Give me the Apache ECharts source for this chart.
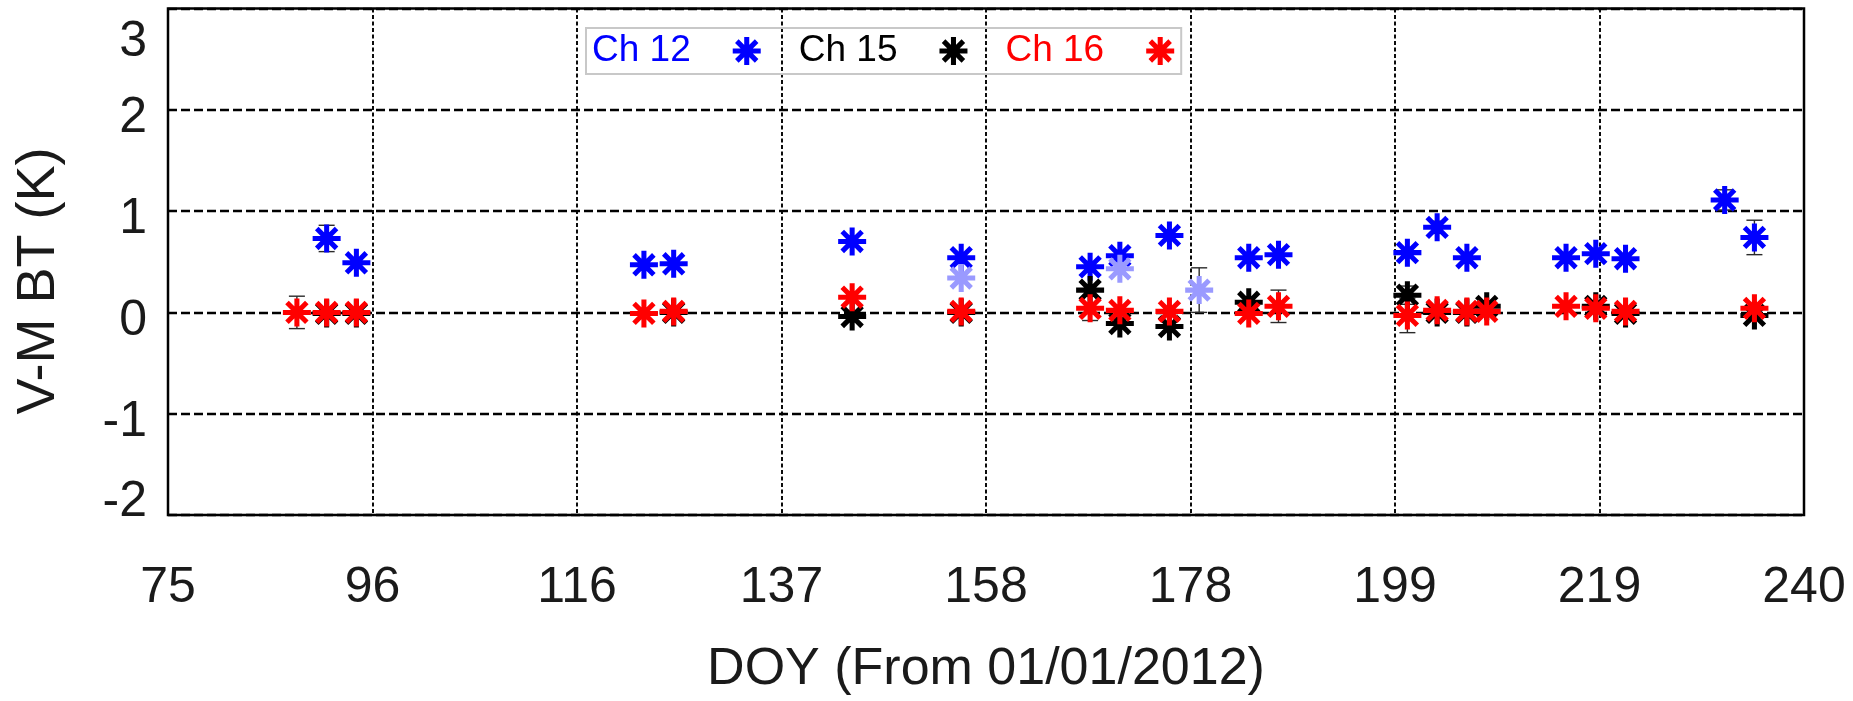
<!DOCTYPE html>
<html>
<head>
<meta charset="utf-8">
<title>V-M BT</title>
<script src="https://cdn.jsdelivr.net/npm/echarts@6/dist/echarts.min.js"></script>
<style>
  html, body { margin: 0; padding: 0; background: #ffffff; }
  #chart { width: 1853px; height: 701px; }
</style>
</head>
<body>
<div id="chart"></div>
<script>
// Day-of-year positions, V-M brightness temperature differences (K) and error half-widths
const ch12Days   = [91, 94, 123, 126, 144, 155, 168, 171, 176, 184, 187, 200, 203, 206, 216, 219, 222, 232, 235];
const ch12Values = [0.73, 0.49, 0.47, 0.48, 0.70, 0.54, 0.45, 0.56, 0.76, 0.54, 0.57, 0.59, 0.84, 0.54, 0.54, 0.58, 0.53, 1.11, 0.74];
const ch12Errors = [0.13, 0, 0, 0, 0, 0, 0, 0, 0, 0, 0, 0, 0.06, 0, 0, 0, 0, 0.10, 0.17];

const ch12bDays   = [155, 171, 179];
const ch12bValues = [0.34, 0.43, 0.22];
const ch12bErrors = [0, 0, 0.22];

const ch15Days   = [91, 94, 126, 144, 155, 168, 171, 176, 184, 200, 203, 206, 208, 219, 222, 235];
const ch15Values = [-0.01, -0.01, 0.00, -0.04, 0.00, 0.22, -0.11, -0.14, 0.10, 0.17, 0.00, 0.00, 0.06, 0.06, -0.01, -0.03];
const ch15Errors = [0, 0, 0, 0, 0, 0, 0, 0, 0, 0.09, 0, 0, 0, 0, 0, 0];

const ch16Days   = [88, 91, 94, 123, 126, 144, 155, 168, 171, 176, 184, 187, 200, 203, 206, 208, 216, 219, 222, 235];
const ch16Values = [0.00, 0.00, 0.00, -0.01, 0.01, 0.15, 0.01, 0.04, 0.02, 0.01, -0.01, 0.06, -0.03, 0.02, 0.01, 0.01, 0.06, 0.04, 0.01, 0.04];
const ch16Errors = [0.16, 0, 0, 0, 0, 0, 0, 0.12, 0, 0, 0, 0.16, 0.17, 0, 0, 0, 0, 0, 0, 0];

// Axis ranges and tick labels
const xRange = [75, 240];
const xTickLabels = ['75', '96', '116', '137', '158', '178', '199', '219', '240'];
const yRange = [-2, 3];

const FONT = '"Liberation Sans", Arial, Helvetica, sans-serif';

// Eight-armed asterisk marker (vertical, horizontal and two diagonal bars)
const STAR = 'path://M41 0L59 0L59 100L41 100Z' +
  'M0 41L100 41L100 59L0 59Z' +
  'M8.28 21L21 8.28L91.72 79L79 91.72Z' +
  'M21 91.72L8.28 79L79 8.28L91.72 21Z';

function pairs(days, values) {
  return days.map((d, i) => [d, values[i]]);
}

function starSeries(name, days, values, color) {
  return {
    type: 'scatter',
    name: name,
    xAxisIndex: 0,
    yAxisIndex: 0,
    z: 3,
    symbol: STAR,
    symbolSize: 28,
    itemStyle: { color: color, opacity: 1 },
    data: pairs(days, values)
  };
}

function errorSeries(name, days, values, errors) {
  const data = [];
  days.forEach((d, i) => {
    if (errors[i] > 0) data.push([d, values[i] - errors[i], values[i] + errors[i]]);
  });
  return {
    type: 'custom',
    name: name,
    xAxisIndex: 0,
    yAxisIndex: 0,
    z: 2,
    silent: true,
    data: data,
    encode: { x: 0, y: [1, 2] },
    renderItem: function (params, api) {
      const lo = api.coord([api.value(0), api.value(1)]);
      const hi = api.coord([api.value(0), api.value(2)]);
      const half = 8;
      const style = { stroke: '#2a2a2a', lineWidth: 1.4 };
      return {
        type: 'group',
        children: [
          { type: 'line', shape: { x1: lo[0], y1: lo[1], x2: hi[0], y2: hi[1] }, style: style },
          { type: 'line', shape: { x1: lo[0] - half, y1: lo[1], x2: lo[0] + half, y2: lo[1] }, style: style },
          { type: 'line', shape: { x1: hi[0] - half, y1: hi[1], x2: hi[0] + half, y2: hi[1] }, style: style }
        ]
      };
    }
  };
}

const chart = echarts.init(document.getElementById('chart'), null, { renderer: 'canvas' });

chart.setOption({
  backgroundColor: '#ffffff',
  animation: false,
  textStyle: { fontFamily: FONT },
  grid: {
    left: 168, right: 49, top: 8.5, bottom: 180.5,
    show: true, borderColor: '#000000', borderWidth: 2.5,
    backgroundColor: 'transparent'
  },
  legend: {
    left: 586, top: 28,
    orient: 'horizontal',
    align: 'right',
    selectedMode: false,
    itemWidth: 28, itemHeight: 28, itemGap: 38,
    padding: [4, 7, 4, 6],
    borderColor: '#c8c8c8', borderWidth: 2,
    textStyle: { fontFamily: FONT, fontSize: 37, lineHeight: 38, padding: [0, 37, 0, 0] },
    data: [
      { name: 'Ch 12', icon: STAR, textStyle: { color: '#0000ff' } },
      { name: 'Ch 15', icon: STAR, textStyle: { color: '#000000' } },
      { name: 'Ch 16', icon: STAR, textStyle: { color: '#ff0000' } }
    ]
  },
  xAxis: [
    {
      // data axis in day-of-year units
      type: 'value', min: xRange[0], max: xRange[1], show: false,
      splitLine: { show: false }
    },
    {
      // evenly divided tick axis carrying the labels and vertical grid lines
      type: 'value', min: 0, max: xTickLabels.length - 1, interval: 1,
      position: 'bottom',
      axisLine: { show: false }, axisTick: { show: false },
      axisLabel: {
        margin: 48, fontSize: 50, color: '#1a1a1a', fontFamily: FONT,
        formatter: v => xTickLabels[Math.round(v)]
      },
      splitLine: { show: true, lineStyle: { color: '#000000', width: 1.9, type: [4, 2.5] } },
      name: 'DOY (From 01/01/2012)',
      nameLocation: 'middle', nameGap: 129,
      nameTextStyle: { fontSize: 52, color: '#1a1a1a', fontFamily: FONT }
    }
  ],
  yAxis: {
    type: 'value', min: yRange[0], max: yRange[1], interval: 1,
    axisLine: { show: false }, axisTick: { show: false },
    splitLine: { show: true, lineStyle: { color: '#000000', width: 2.3, type: [9, 4] } },
    axisLabel: {
      margin: 21, color: '#1a1a1a', fontFamily: FONT, fontSize: 50,
      formatter: v => v === yRange[1] ? '{hi|' + v + '}' : (v === yRange[0] ? '{lo|' + v + '}' : '{mid|' + v + '}'),
      rich: {
        hi:  { fontSize: 50, fontFamily: FONT, color: '#1a1a1a', padding: [67, 0, 0, 0] },
        lo:  { fontSize: 50, fontFamily: FONT, color: '#1a1a1a', padding: [0, 0, 26, 0] },
        mid: { fontSize: 50, fontFamily: FONT, color: '#1a1a1a', padding: [17, 0, 0, 0] }
      }
    }
  },
  graphic: [
    {
      type: 'text', x: 39, y: 281, rotation: Math.PI / 2,
      style: { text: 'V-M BT (K)', fontSize: 54, fontFamily: FONT, fill: '#1a1a1a', align: 'center', verticalAlign: 'middle' }
    }
  ],
  series: [
    errorSeries('Ch 12 error', ch12Days, ch12Values, ch12Errors),
    errorSeries('Ch 12b error', ch12bDays, ch12bValues, ch12bErrors),
    errorSeries('Ch 15 error', ch15Days, ch15Values, ch15Errors),
    errorSeries('Ch 16 error', ch16Days, ch16Values, ch16Errors),
    starSeries('Ch 12', ch12Days, ch12Values, '#0000ff'),
    starSeries('Ch 12b', ch12bDays, ch12bValues, '#9a9aff'),
    starSeries('Ch 15', ch15Days, ch15Values, '#000000'),
    starSeries('Ch 16', ch16Days, ch16Values, '#ff0000')
  ]
});
</script>
</body>
</html>
